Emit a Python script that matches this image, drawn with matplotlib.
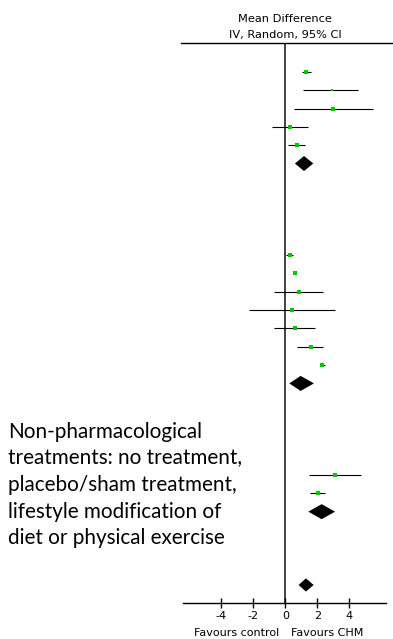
import matplotlib
matplotlib.use("Agg")
import matplotlib.pyplot as plt
from matplotlib.patches import Polygon

# mean differences and 95% CIs, one list per subgroup
g1_md = [1.31, 2.92, 3.00, 0.29, 0.73]
g1_lo = [1.02, 1.13, 0.52, -0.81, 0.15]
g1_hi = [1.63, 4.52, 5.50, 1.44, 1.25]
g1_weight = [30, 5, 12, 12, 13]

g2_md = [0.27, 0.61, 0.83, 0.40, 0.61, 1.61, 2.27]
g2_lo = [0.02, 0.55, -0.71, -2.29, -0.71, 0.75, 2.17]
g2_hi = [0.50, 0.68, 2.37, 3.08, 1.88, 2.37, 2.46]
g2_weight = [30, 30, 13, 13, 30, 18, 30]

g3_md = [3.11, 2.04]
g3_lo = [1.46, 1.52]
g3_hi = [4.71, 2.48]
g3_weight = [30, 13]

# pooled subgroup estimates and overall estimate
pooled_md = [1.17, 0.96, 2.27]
pooled_lo = [0.60, 0.25, 1.44]
pooled_hi = [1.75, 1.79, 3.11]
overall_md = 1.29
overall_lo = 0.83
overall_hi = 1.77

xticks = [-4, -2, 0, 2, 4]
note = ("Non-pharmacological\ntreatments: no treatment,\nplacebo/sham treatment,\n"
        "lifestyle modification of\ndiet or physical exercise")

W, H = 393, 639
fig = plt.figure(figsize=(W / 100, H / 100), dpi=100)
# axes placed in pixel terms: x 16 px per unit, rows 18.33 px apart
left_px, right_px = 182.9, 386.1
top_px, bot_px = 43.5, 603.3
ax = fig.add_axes([left_px / W, 1 - bot_px / H, (right_px - left_px) / W, (bot_px - top_px) / H])
ax.set_xlim(-6.4, 6.3)
ax.set_ylim(29, -1.55)

green = "#00c800"


def draw_studies(rows, md, lo, hi, weight):
    for r, m, l, h, w in zip(rows, md, lo, hi, weight):
        ax.plot([l, h], [r, r], color="black", lw=0.8, solid_capstyle="butt")
        side = 2.4 + 0.06 * w
        ax.plot(m, r, marker="s", ms=side * 0.72, color=green, mew=0, zorder=3)


def draw_diamond(row, m, l, h, half=0.41):
    ax.add_patch(Polygon([(l, row), (m, row - half), (h, row), (m, row + half)],
                         closed=True, color="black", lw=0, zorder=3))


draw_studies(range(0, 5), g1_md, g1_lo, g1_hi, g1_weight)
draw_studies(range(10, 17), g2_md, g2_lo, g2_hi, g2_weight)
draw_studies(range(22, 24), g3_md, g3_lo, g3_hi, g3_weight)
for row, m, l, h in zip([5, 17, 24], pooled_md, pooled_lo, pooled_hi):
    draw_diamond(row, m, l, h)
draw_diamond(28, overall_md, overall_lo, overall_hi, half=0.36)

# line of no effect and the header rule
ax.axvline(0, color="#333333", lw=1.3, zorder=1)
ax.plot([-6.52, 6.8], [-1.55, -1.55], color="black", lw=1.0, clip_on=False)

for s in ["top", "left", "right"]:
    ax.spines[s].set_visible(False)
ax.spines["bottom"].set_linewidth(1.0)
ax.set_yticks([])
ax.set_xticks(xticks)
ax.set_xticklabels([str(t) for t in xticks], fontsize=8, family="DejaVu Sans")
ax.tick_params(axis="x", direction="inout", length=7, width=1.0, pad=2)

ax.text(0, -2.0, "IV, Random, 95% CI", ha="center", va="center", fontsize=8.2,
        family="DejaVu Sans", clip_on=False)
ax.text(0, -2.9, "Mean Difference", ha="center", va="center", fontsize=8.2,
        family="DejaVu Sans", clip_on=False)
ax.text(-0.38, 30.6, "Favours control", ha="right", va="center", fontsize=8,
        family="DejaVu Sans", clip_on=False)
ax.text(0.34, 30.6, "Favours CHM", ha="left", va="center", fontsize=8,
        family="DejaVu Sans", clip_on=False)

fig.text(8 / W, 1 - 485 / H, note, ha="left", va="center", fontsize=14.9,
         family="Lato", linespacing=1.41)

fig.savefig("out.png", dpi=100)
